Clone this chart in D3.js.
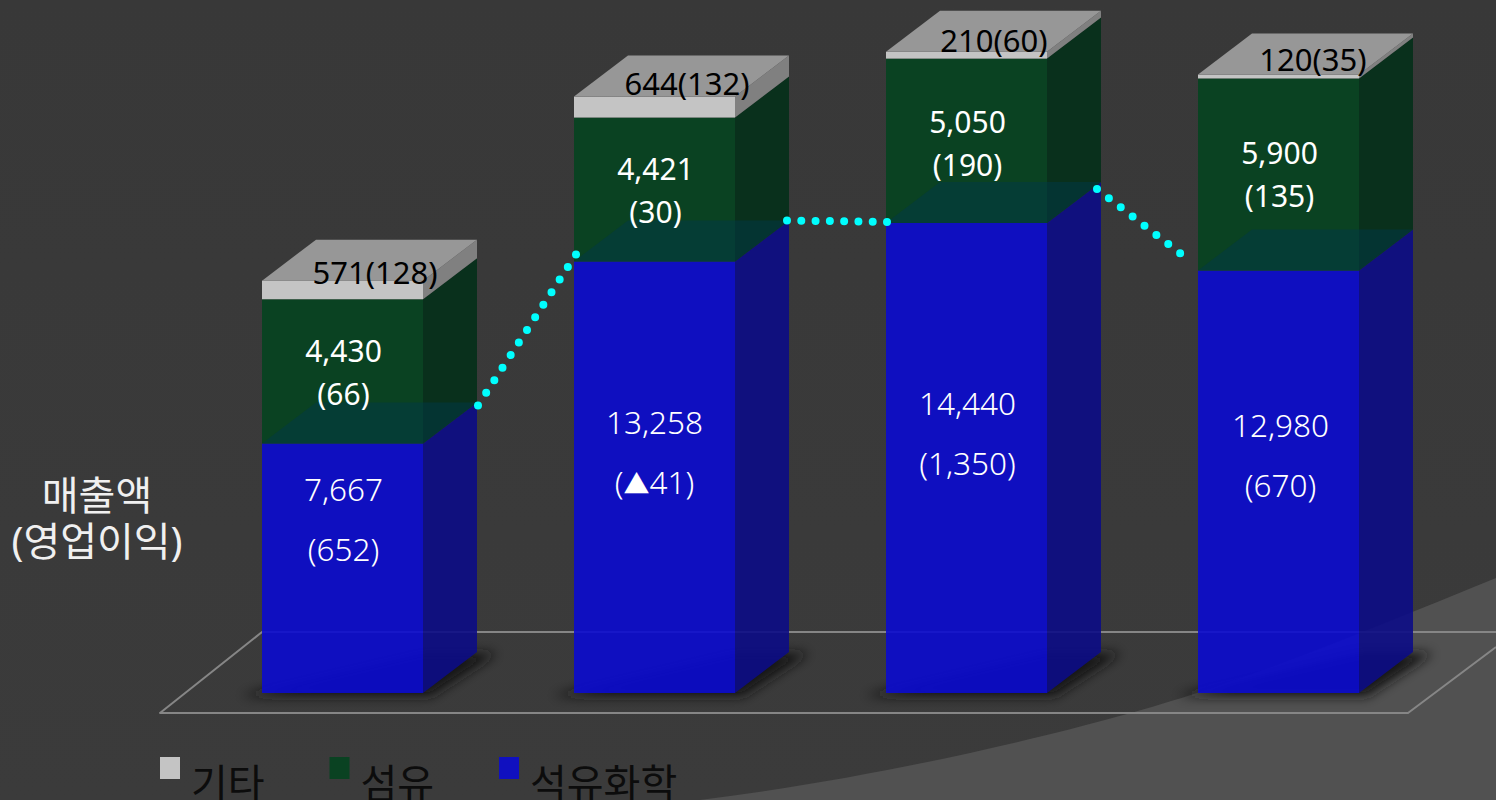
<!DOCTYPE html>
<html>
<head>
<meta charset="utf-8">
<script src="https://cdn.jsdelivr.net/npm/d3@7"></script>
<style>
  html, body { margin: 0; padding: 0; background: #3a3a3a; overflow: hidden; }
  svg { display: block; }
  text { font-family: "Noto Sans", "Noto Sans CJK KR", sans-serif; }
</style>
</head>
<body>
<div id="chart"></div>
<script>
// chart values
const quarters = ["Q1", "Q2", "Q3", "Q4"];
const petro = [7667, 13258, 14440, 12980];
const fiber = [4430, 4421, 5050, 5900];
const other = [571, 644, 210, 120];
const petroProfit = ["(652)", "(▲41)", "(1,350)", "(670)"];
const fiberProfit = ["(66)", "(30)", "(190)", "(135)"];
const otherLabel = ["571(128)", "644(132)", "210(60)", "120(35)"];
const legendNames = ["기타", "섬유", "석유화학"];

const width = 1496, height = 800;
const barWidth = 161, depthX = 54, depthY = 41;

const rows = quarters.map((q, i) => ({ q, petro: petro[i], fiber: fiber[i], other: other[i] }));
const stacked = d3.stack().keys(["petro", "fiber", "other"])(rows);

const x = d3.scalePoint().domain(quarters).range([262, 1198]);
const y = d3.scaleLinear().domain([0, 20000]).range([693, 42]);

// how far the hand placed labels sit from the top of their segment
const petroOffset = [46, 161, 181, 155];
const fiberOffset = [52, 52, 64, 75];
const otherOffset = [-8, -13, -11, -15];
const otherShift = [113, 113, 108, 115];
const petroShift = [-1, -2, -1, 0];
// the dotted links do not quite touch the corners: [start dx, start dy, end dx, end dy]
const linkNudge = [[1, 3, 2, -7], [-2, 0, 1, -1], [-4, 7, -6, -8]];

const svg = d3.select("#chart").append("svg")
  .attr("width", width).attr("height", height)
  .attr("viewBox", [0, 0, width, height]);

const defs = svg.append("defs");
defs.append("filter").attr("id", "blur")
  .attr("x", "-30%").attr("y", "-60%").attr("width", "160%").attr("height", "220%")
  .append("feGaussianBlur").attr("stdDeviation", 6);
const bg = defs.append("linearGradient").attr("id", "bg").attr("x1", 0).attr("y1", 0).attr("x2", 0).attr("y2", 1);
bg.append("stop").attr("offset", 0).attr("stop-color", "#383838");
bg.append("stop").attr("offset", 1).attr("stop-color", "#3b3b3b");

svg.append("rect").attr("width", width).attr("height", height).attr("fill", "url(#bg)");

// lighter swoosh in the lower right corner
svg.append("path")
  .attr("d", "M700,800 C900,775 1100,725 1200,692 S1400,617 1496,578 L1496,800 Z")
  .attr("fill", "#515151");

// floor
const floorLine = d3.line();
svg.append("g").attr("fill", "none").attr("stroke", "#868686").attr("stroke-width", 2)
  .selectAll("path")
  .data([
    [[1496, 632], [262, 632], [160, 713], [1408, 713], [1496, 647]]
  ])
  .join("path")
  .attr("stroke-linejoin", "round")
  .attr("d", floorLine);

// shadows under the bars
svg.append("g").attr("filter", "url(#blur)")
  .selectAll("path")
  .data(quarters)
  .join("path")
  .attr("fill", "#141414")
  .attr("d", (q) => {
    const x0 = x(q), b = y(0);
    return floorLine([[x0 - 22, b + 3], [x0 + barWidth + 8, b + 3], [x0 + barWidth + depthX + 20, b - depthY + 1], [x0 + barWidth, b - depthY + 1]]);
  });

const faces = {
  petro: { front: "#0b0bcf", side: "#0c0c86", top: "#0c0c86" },
  fiber: { front: "#0a4222", side: "#09301c", top: "#8f8f8f" },
  other: { front: "#c4c4c4", side: "#808080", top: "#979797" }
};

const bars = svg.append("g");
stacked.forEach((layer) => {
  const face = faces[layer.key];
  const g = bars.append("g").attr("class", "layer-" + layer.key);

  g.selectAll("rect")
    .data(layer)
    .join("rect")
    .attr("x", (d) => x(d.data.q))
    .attr("y", (d) => y(d[1]))
    .attr("width", barWidth)
    .attr("height", (d) => y(d[0]) - y(d[1]))
    .attr("fill", face.front)
    .attr("fill-opacity", layer.key === "petro" ? 0.9 : 1);

  g.selectAll("path.side")
    .data(layer)
    .join("path")
    .attr("class", "side")
    .attr("fill", face.side)
    .attr("fill-opacity", layer.key === "petro" ? 0.9 : 1)
    .attr("d", (d) => {
      const r = x(d.data.q) + barWidth;
      return floorLine([[r, y(d[1])], [r + depthX, y(d[1]) - depthY], [r + depthX, y(d[0]) - depthY], [r, y(d[0])]]);
    });
});

// top faces: grey lid on the stack, and the blue lid seen through the green
const lid = (d) => {
  const l = x(d.data.q), t = y(d[1]);
  return floorLine([[l, t], [l + barWidth, t], [l + barWidth + depthX, t - depthY], [l + depthX, t - depthY]]);
};
bars.append("g").selectAll("path")
  .data(stacked[0])
  .join("path")
  .attr("fill", "#003848")
  .attr("fill-opacity", 0.5)
  .attr("d", lid);
bars.append("g").selectAll("path")
  .data(stacked[2])
  .join("path")
  .attr("fill", faces.other.top)
  .attr("d", lid);

// dotted line between the blue segments
const links = d3.pairs(stacked[0]);
svg.append("g")
  .selectAll("path")
  .data(links)
  .join("path")
  .attr("fill", "none")
  .attr("stroke", "#00ffff")
  .attr("stroke-width", 8)
  .attr("stroke-linecap", "round")
  .attr("d", ([a, b], i) => {
    const n = linkNudge[i];
    return floorLine([
      [x(a.data.q) + barWidth + depthX + n[0], y(a[1]) - depthY + n[1]],
      [x(b.data.q) + n[2], y(b[1]) + n[3]]
    ]);
  })
  .attr("stroke-dasharray", function () {
    // fit the spacing so a dot lands on both ends
    const len = this.getTotalLength();
    return `0 ${len / Math.round(len / 15.3)}`;
  });

// value labels
const labels = svg.append("g").attr("text-anchor", "middle");

const twoLines = (layer, offsets, shifts, sales, profit, gap, size, weight) => {
  const g = labels.append("g").attr("fill", "#fff").attr("font-size", size).attr("font-weight", weight);
  layer.forEach((d, i) => {
    const cx = x(d.data.q) + barWidth / 2 + 2 + shifts[i], top = y(d[1]) + offsets[i];
    g.append("text").attr("x", cx).attr("y", top).attr("dy", "0.36em").text(d3.format(",")(sales[i]));
    const line = g.append("text").attr("x", cx).attr("y", top + gap).attr("dy", "0.36em");
    profit[i].split(/(▲)/).forEach((part) => {
      // the triangle falls back to a wider font, so it is set smaller
      line.append("tspan").attr("font-size", part === "▲" ? 26 : null).text(part);
    });
  });
};
twoLines(stacked[0], petroOffset, petroShift, petro, petroProfit, 60, 31.5, 300);
twoLines(stacked[1], fiberOffset, [-1, -1, -1, -1], fiber, fiberProfit, 43, 30, 400);

labels.append("g").attr("fill", "#000").attr("font-size", 31)
  .selectAll("text")
  .data(stacked[2])
  .join("text")
  .attr("x", (d, i) => x(d.data.q) + otherShift[i])
  .attr("y", (d, i) => y(d[1]) + otherOffset[i])
  .attr("dy", "0.36em")
  .text((d, i) => otherLabel[i]);

// left caption
const caption = svg.append("g").attr("fill", "#f0f0f0").attr("font-size", 40).attr("text-anchor", "middle");
caption.append("text").attr("x", 97).attr("y", 510).text("매출액");
caption.append("text").attr("x", 97).attr("y", 556).text("(영업이익)");

// legend
const legend = svg.append("g");
const legendX = d3.scalePoint().domain(legendNames).range([160, 499]);
const legendFill = [faces.other.front, faces.fiber.front, "#1010c0"];
legend.selectAll("rect")
  .data(legendNames)
  .join("rect")
  .attr("x", (d) => legendX(d))
  .attr("y", 757)
  .attr("width", 20)
  .attr("height", 22)
  .attr("fill", (d, i) => legendFill[i]);
legend.selectAll("text")
  .data(legendNames)
  .join("text")
  .attr("x", (d) => legendX(d) + 31)
  .attr("y", 798)
  .attr("font-size", 40)
  .attr("fill", "#0c0c0c")
  .text((d) => d);
</script>
</body>
</html>
